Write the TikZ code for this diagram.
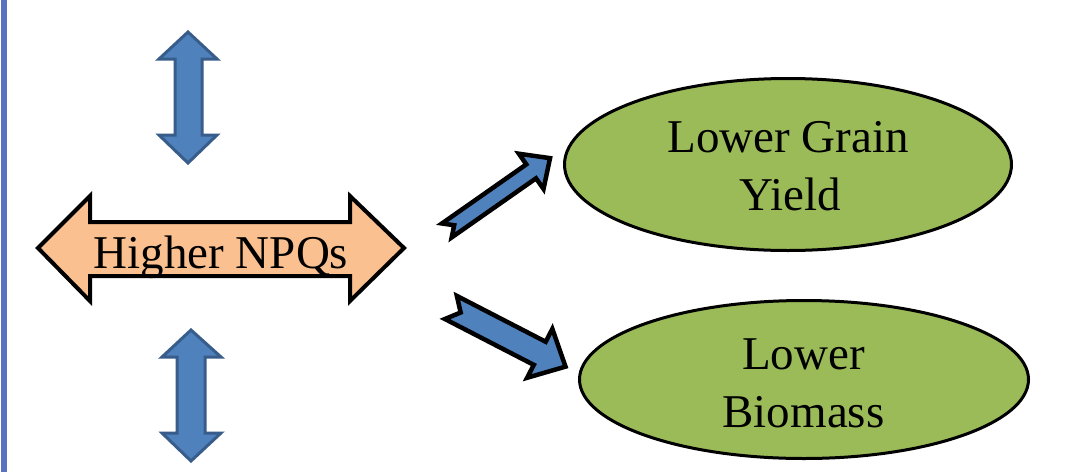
\documentclass[tikz,border=0pt]{standalone}
\usepackage{fontspec}
\setmainfont{Liberation Serif}
\usetikzlibrary{shapes.geometric}
\definecolor{sideblue}{HTML}{5B72C2}
\definecolor{arrowblue}{HTML}{4F81BD}
\definecolor{arrowedge}{HTML}{385D8A}
\definecolor{npqorange}{HTML}{FAC090}
\definecolor{leafgreen}{HTML}{9BBB59}
\begin{document}
\begin{tikzpicture}[x=1pt,y=-1pt,
  vertarrow/.style={fill=arrowblue,draw=arrowedge,line width=3pt,line join=miter},
  diagarrow/.style={fill=arrowblue,draw=black,line width=4.5pt,line join=miter},
  npqarrow/.style={fill=npqorange,draw=black,line width=4pt,line join=miter},
  resultellipse/.style={ellipse,fill=leafgreen,draw=black,line width=3pt,inner sep=0pt},
  bigtext/.style={font=\fontsize{47}{58}\selectfont,inner sep=0pt,anchor=base}]
\useasboundingbox (0,0) rectangle (1066,472);
\fill[white] (0,0) rectangle (1066,472);
% left side bar
\fill[sideblue] (1,0) rectangle (7,472);
% vertical double arrows
\draw[vertarrow] (188,32) -- (217,59) -- (202,59) -- (202,135) -- (217,135) -- (188,163)
  -- (159,135) -- (175,135) -- (175,59) -- (159,59) -- cycle;
\draw[vertarrow] (191,330) -- (221,357) -- (205,357) -- (205,433) -- (221,433) -- (191,461)
  -- (162,433) -- (177,433) -- (177,357) -- (162,357) -- cycle;
% Higher NPQs double arrow
\draw[npqarrow] (38,248) -- (90,196) -- (90,222) -- (350,222) -- (350,196) -- (404,248)
  -- (350,301) -- (350,276) -- (90,276) -- (90,301) -- cycle;
\node[bigtext] (npq) at (221,268) {Higher NPQs};
% ellipses
\node[resultellipse,minimum width=447pt,minimum height=172pt] (grain) at (788,164.5) {};
\node[bigtext] (grainA) at (788,152) {Lower Grain};
\node[bigtext] (grainB) at (790,210) {Yield};
\node[resultellipse,minimum width=449pt,minimum height=158pt] (biomass) at (804,379.5) {};
\node[bigtext] (bioA) at (803.5,369) {Lower};
\node[bigtext] (bioB) at (803.5,427) {Biomass};
% diagonal arrows
\begin{scope}[shift={(446,231)},rotate=35]
\draw[diagarrow] (1,-8.5) -- (104,-8.5) -- (104,-21.5) -- (127,0) -- (104,21.5) -- (104,8.5)
  -- (1,8.5) -- (10,0) -- cycle;
\end{scope}
\begin{scope}[shift={(450,307)},rotate=-27.3]
\draw[diagarrow] (1,-13) -- (101,-13) -- (101,-27.5) -- (130,0) -- (101,27.5) -- (101,13)
  -- (1,13) -- (12,0) -- cycle;
\end{scope}
\end{tikzpicture}
\end{document}
